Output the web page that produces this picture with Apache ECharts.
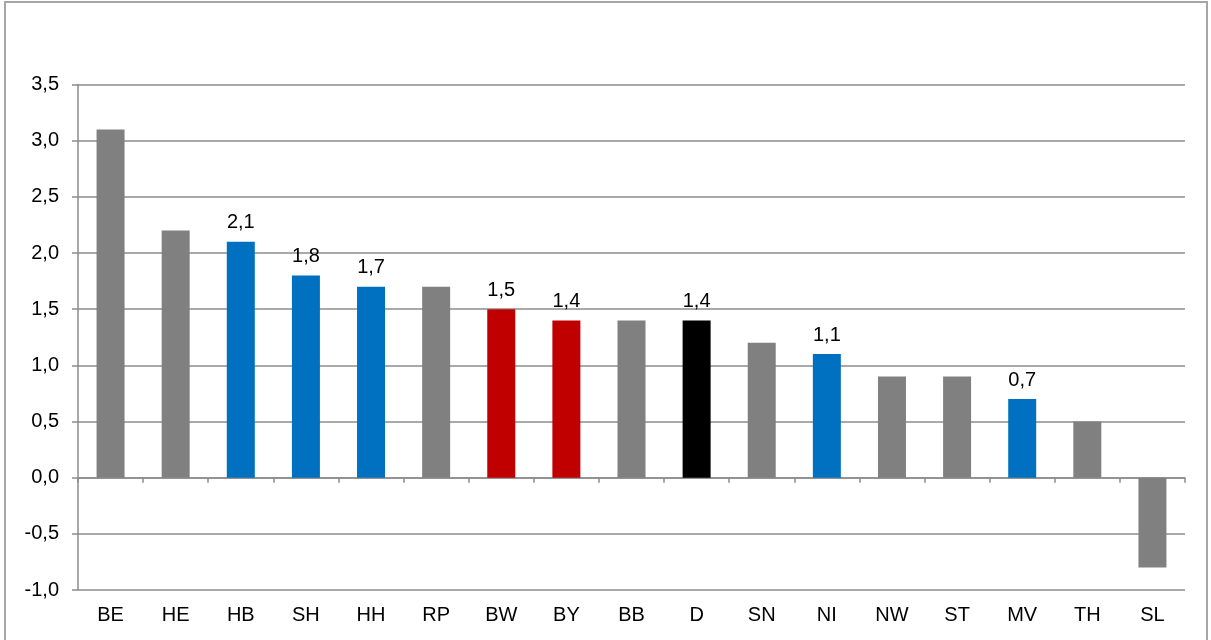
<!DOCTYPE html>
<html>
<head>
<meta charset="utf-8">
<script src="https://cdn.jsdelivr.net/npm/echarts@6/dist/echarts.min.js"></script>
<style>
html,body{margin:0;padding:0;background:#fff;}
#frame{position:absolute;left:4px;top:1px;width:1204px;height:645px;border:2px solid #a6a6a6;box-sizing:border-box;}
#chart{position:absolute;left:0;top:0;width:1211px;height:640px;}
</style>
</head>
<body>
<div id="frame"></div>
<div id="chart"></div>
<script>
const categories = ['BE','HE','HB','SH','HH','RP','BW','BY','BB','D','SN','NI','NW','ST','MV','TH','SL'];
const values = [3.1, 2.2, 2.1, 1.8, 1.7, 1.7, 1.5, 1.4, 1.4, 1.4, 1.2, 1.1, 0.9, 0.9, 0.7, 0.5, -0.8];
const colorGroups = ['gray','gray','blue','blue','blue','gray','red','red','gray','black','gray','blue','gray','gray','blue','gray','gray'];
const yTicks = {min: -1.0, max: 3.5, interval: 0.5};

const palette = {gray:'#808080', blue:'#0070C0', red:'#C00000', black:'#000000'};
const fmt = v => v.toFixed(1).replace('.', ',');
const FONT = 'Liberation Sans, Arial, sans-serif';
const FS = 20;

const data = values.map((v, i) => ({
  value: v,
  itemStyle: {color: palette[colorGroups[i]]},
  label: {show: colorGroups[i] !== 'gray'}
}));

const chart = echarts.init(document.getElementById('chart'), null, {renderer: 'canvas'});
chart.setOption({
  animation: false,
  grid: {left: 78, right: 26, top: 84.5, bottom: 50, containLabel: false},
  xAxis: [
    {
      type: 'category', data: categories, position: 'bottom',
      axisLine: {show: true, onZero: true, lineStyle: {color: '#8c8c8c', width: 1.5}},
      axisTick: {show: true, length: 5, lineStyle: {color: '#8c8c8c', width: 1.5}},
      axisLabel: {show: false},
      splitLine: {show: false}
    },
    {
      type: 'category', data: categories, position: 'bottom',
      axisLine: {show: false, onZero: false},
      axisTick: {show: false},
      axisLabel: {show: true, margin: 15, color: '#000', fontSize: FS, fontFamily: FONT},
      splitLine: {show: false}
    }
  ],
  yAxis: {
    type: 'value', min: yTicks.min, max: yTicks.max, interval: yTicks.interval,
    axisLine: {show: true, lineStyle: {color: '#8c8c8c', width: 1.5}},
    axisTick: {show: true, length: 6, lineStyle: {color: '#8c8c8c', width: 1.5}},
    axisLabel: {margin: 19, color: '#000', fontSize: FS, fontFamily: FONT, formatter: fmt},
    splitLine: {show: true, lineStyle: {color: '#8c8c8c', width: 1.5}}
  },
  series: [{
    type: 'bar', xAxisIndex: 0, data: data, barWidth: '43%',
    label: {position: 'top', distance: 9, color: '#000', fontSize: FS, fontFamily: FONT, formatter: p => fmt(p.value)}
  }]
});
</script>
</body>
</html>
